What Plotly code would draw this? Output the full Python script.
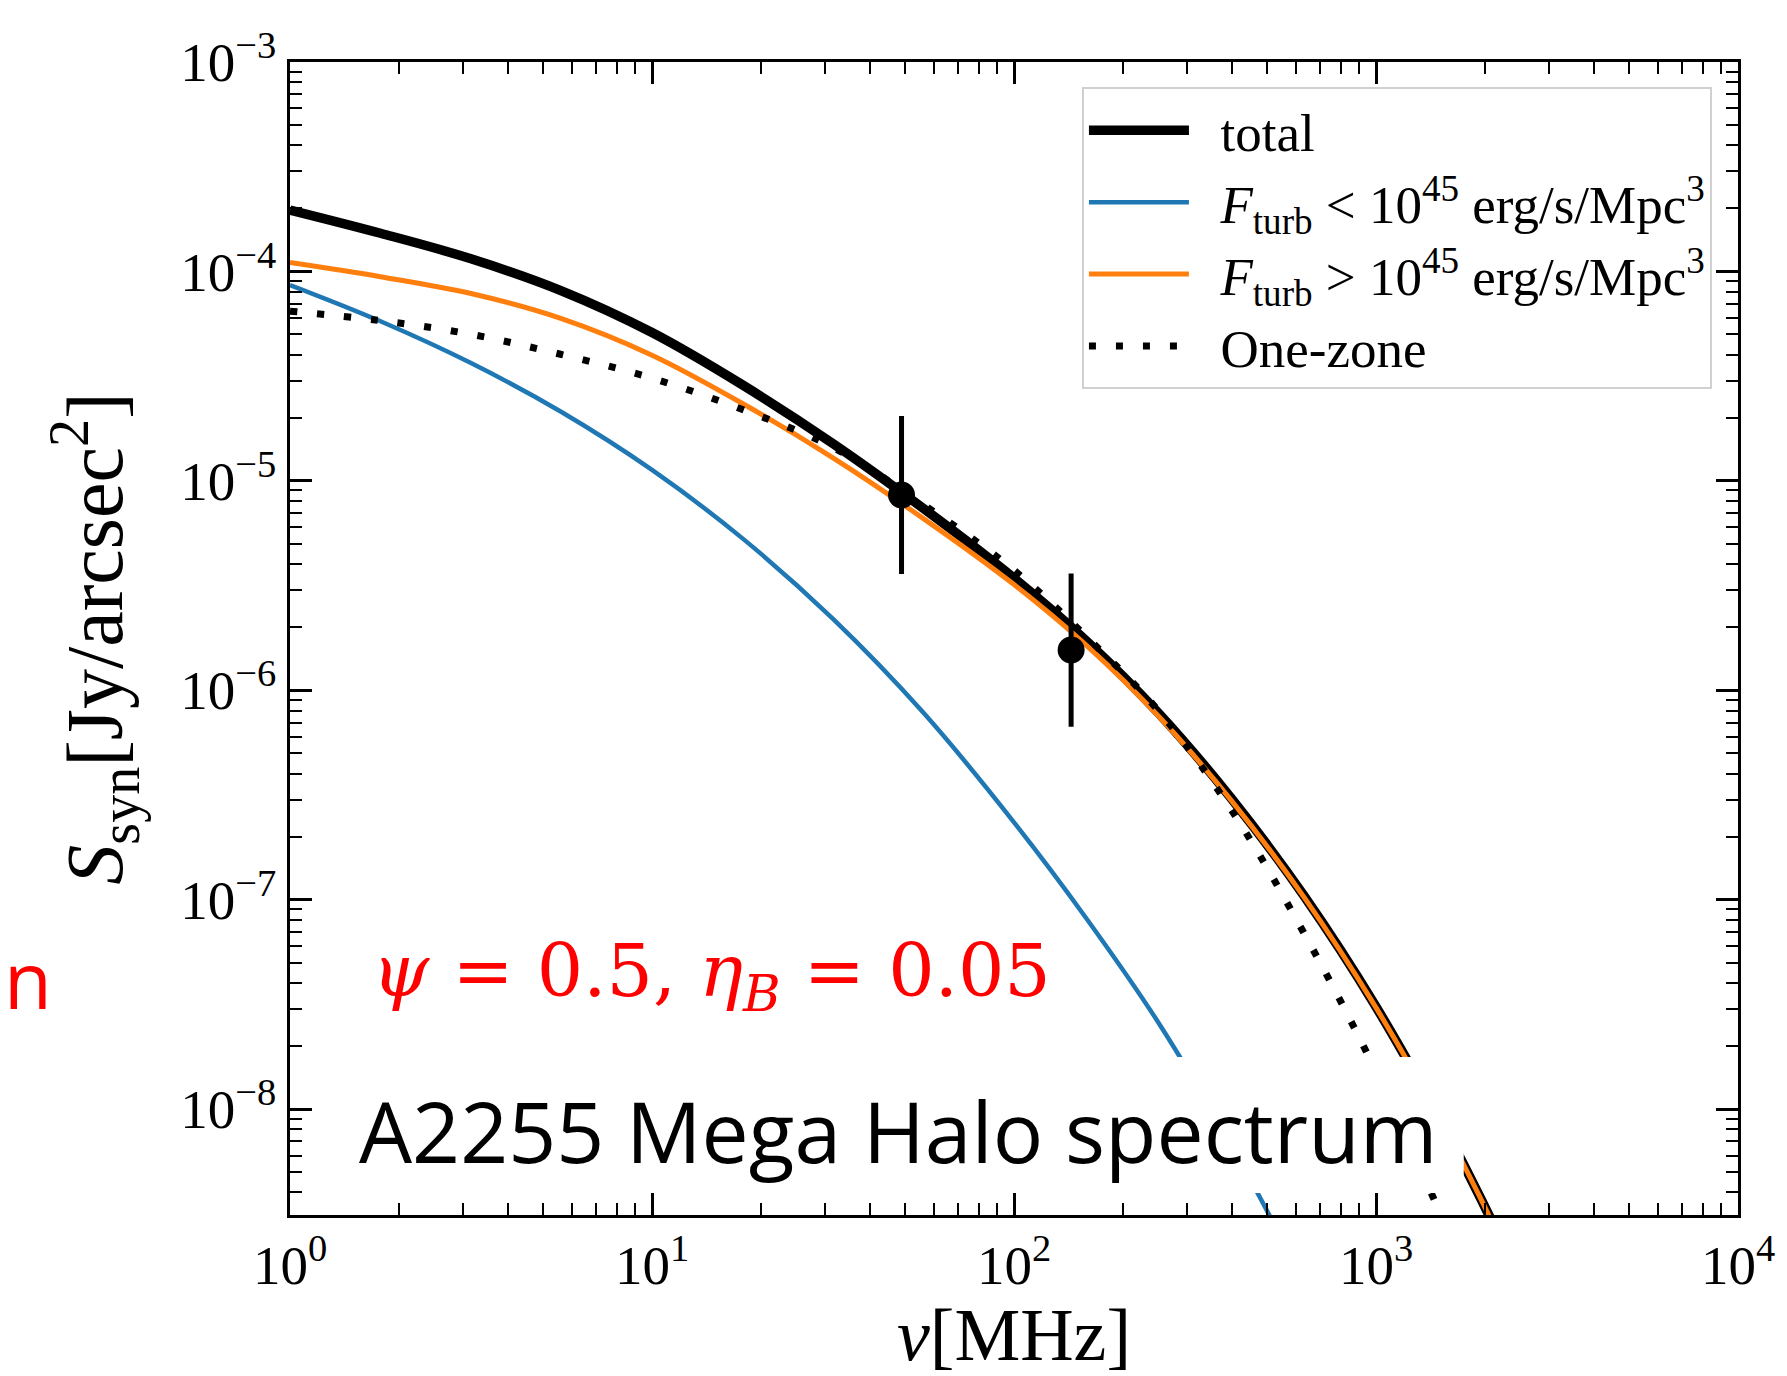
import plotly.graph_objects as go

# ---------------- data ----------------
# frequencies in MHz at which the curves were read
nu_grid = [1.0, 1.778, 3.162, 5.623, 10.0, 17.78, 31.62, 56.23, 100.0, 158.5, 251.2, 398.1,
           631.0, 1000.0, 1585.0, 1995.0, 2512.0]

s_total = [1.963e-4, 1.521e-4, 1.149e-4, 8.08e-5, 5.107e-5, 2.871e-5, 1.506e-5, 7.38e-6, 3.429e-6,
           1.720e-6, 7.75e-7, 3.05e-7, 1.049e-7, 3.08e-8, 7.5e-9, 3.43e-9, 1.5e-9]

s_high = [1.102e-4, 9.43e-5, 7.84e-5, 5.95e-5, 3.98e-5, 2.34e-5, 1.287e-5, 6.60e-6, 3.195e-6,
          1.639e-6, 7.49e-7, 2.98e-7, 1.034e-7, 3.05e-8, 7.49e-9, 3.42e-9, 1.494e-9]

nu_low = [1.0, 1.778, 3.162, 5.623, 10.0, 17.78, 31.62, 56.23, 100.0, 158.5, 251.2, 398.1, 631.0]
s_low = [8.61e-5, 5.78e-5, 3.65e-5, 2.13e-5, 1.127e-5, 5.31e-6, 2.19e-6, 7.80e-7, 2.34e-7,
         8.13e-8, 2.57e-8, 6.76e-9, 1.51e-9]

nu_one = [1.0, 1.778, 3.162, 5.623, 10.0, 17.78, 31.62, 56.23, 100.0, 158.5, 251.2, 398.1,
          631.0, 1000.0, 1585.0, 1995.0]
s_one = [6.46e-5, 5.82e-5, 5.01e-5, 4.01e-5, 3.09e-5, 2.19e-5, 1.445e-5, 7.69e-6, 3.74e-6,
         1.80e-6, 7.94e-7, 2.69e-7, 6.97e-8, 1.51e-8, 2.59e-9, 1.05e-9]

obs_nu = [48.9, 143.8]
obs_s = [8.55e-6, 1.556e-6]
obs_err_plus = [1.185e-5, 2.05e-6]
obs_err_minus = [4.96e-6, 8.86e-7]

x_tickvals = [1, 10, 100, 1000, 10000]
x_ticktext = ["10<sup>0</sup>", "10<sup>1</sup>", "10<sup>2</sup>", "10<sup>3</sup>", "10<sup>4</sup>"]
y_tickvals = [1e-8, 1e-7, 1e-6, 1e-5, 1e-4, 1e-3]
y_ticktext = ["10<sup>−8</sup>", "10<sup>−7</sup>", "10<sup>−6</sup>", "10<sup>−5</sup>",
              "10<sup>−4</sup>", "10<sup>−3</sup>"]

legend_names = ["total",
                "<i>F</i><sub>turb</sub> < 10<sup>45</sup> erg/s/Mpc<sup>3</sup>",
                "<i>F</i><sub>turb</sub> > 10<sup>45</sup> erg/s/Mpc<sup>3</sup>",
                "One-zone"]

# ---------------- figure ----------------
SERIF = "Liberation Serif, Times New Roman, serif"
PAD = "\u00a0\u00a0"  # small gap between the legend line sample and its label

fig = go.Figure()
fig.add_trace(go.Scatter(x=nu_grid, y=s_total, mode="lines", name=PAD + legend_names[0], legendgroup="g1",
                         line=dict(color="black", width=9.5, shape="spline")))
fig.add_trace(go.Scatter(x=nu_low, y=s_low, mode="lines", name=PAD + legend_names[1], legendgroup="g2",
                         line=dict(color="#1f77b4", width=4.5, shape="spline")))
fig.add_trace(go.Scatter(x=nu_grid, y=s_high, mode="lines", name=PAD + legend_names[2], legendgroup="g3",
                         line=dict(color="#ff7f0e", width=5, shape="spline")))
fig.add_trace(go.Scatter(x=nu_one, y=s_one, mode="lines", name=PAD + legend_names[3], legendgroup="g4",
                         line=dict(color="black", width=7, dash="7px,20px", shape="spline")))
fig.add_trace(go.Scatter(x=obs_nu, y=obs_s, mode="markers", showlegend=False,
                         marker=dict(color="black", size=27),
                         error_y=dict(type="data", symmetric=False, array=obs_err_plus,
                                      arrayminus=obs_err_minus, color="black",
                                      thickness=5, width=0)))

x_minor = [k * 10 ** e for e in range(0, 4) for k in range(2, 10)]
y_minor = [k * 10.0 ** e for e in range(-9, -3) for k in range(2, 10)]

axis_common = dict(showgrid=False, zeroline=False, showline=True, linecolor="black", linewidth=2.5,
                   mirror="allticks", ticks="inside", ticklen=22, tickwidth=2.5, tickcolor="black",
                   tickfont=dict(family=SERIF, size=55, color="black"))

fig.update_xaxes(type="log", range=[0, 4], tickmode="array", tickvals=x_tickvals, ticktext=x_ticktext,
                 minor=dict(ticks="inside", ticklen=12, tickwidth=2, tickcolor="black",
                            tickmode="array", tickvals=x_minor),
                 title=dict(text="<i>ν</i>[MHz]", font=dict(family=SERIF, size=74, color="black"),
                            standoff=6),
                 **axis_common)
fig.update_yaxes(type="log", range=[-8.506, -3], tickmode="array", tickvals=y_tickvals, ticktext=y_ticktext,
                 minor=dict(ticks="inside", ticklen=12, tickwidth=2, tickcolor="black",
                            tickmode="array", tickvals=y_minor),
                 title=dict(text="<i>S</i><sub>syn</sub>[Jy/arcsec<sup>2</sup>]",
                            font=dict(family=SERIF, size=80, color="black"), standoff=32),
                 **axis_common)

fig.update_layout(
    width=1787, height=1376, autosize=False,
    margin=dict(l=290, r=45, t=62, b=161, pad=0),
    paper_bgcolor="white", plot_bgcolor="white",
    legend=dict(x=0.982, y=0.978, xanchor="right", yanchor="top", tracegroupgap=0,
                itemwidth=100,
                bgcolor="white", bordercolor="#d0d0d0", borderwidth=2,
                font=dict(family=SERIF, size=53, color="black")),
    shapes=[dict(type="rect", xref="paper", yref="paper", x0=0.031, x1=0.8106, y0=0.019, y1=0.137,
                 fillcolor="white", line=dict(width=0), layer="above")],
    annotations=[
        dict(text="<i>ψ</i> = 0.5, <i>η</i><sub><i>B</i></sub> = 0.05", xref="paper", yref="paper",
             x=0.0555, y=0.208, xanchor="left", yanchor="middle", showarrow=False,
             font=dict(family="DejaVu Serif, serif", size=73, color="#ff0000")),
        dict(text="A2255 Mega Halo spectrum", xref="paper", yref="paper",
             x=0.046, y=0.0737, xanchor="left", yanchor="middle", showarrow=False,
             font=dict(family="Open Sans, sans-serif", size=84, color="black")),
        dict(text="n", xref="paper", yref="paper",
             x=-0.199, y=0.205, xanchor="left", yanchor="middle", showarrow=False,
             font=dict(family="Open Sans, sans-serif", size=78, color="#ff0000")),
    ],
)

fig.write_html("out.html")
